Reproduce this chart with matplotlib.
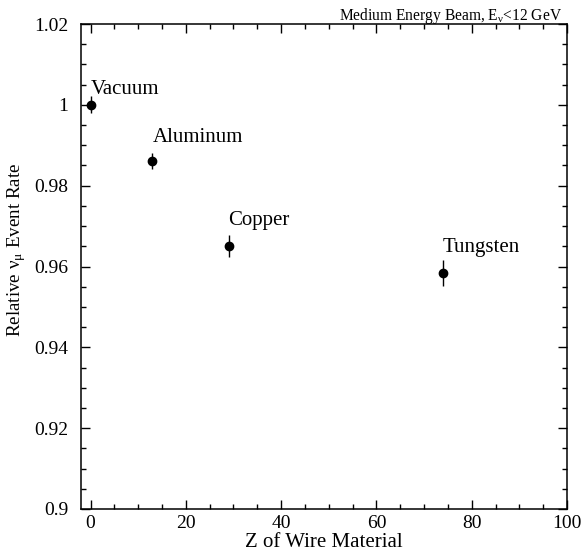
import numpy as np
import matplotlib
matplotlib.use("Agg")
from matplotlib import pyplot as plt
from matplotlib.ticker import MultipleLocator

# data
materials = ["Vacuum", "Aluminum", "Copper", "Tungsten"]
z = [0, 13, 29, 74]
rate = [1.0, 0.9861, 0.9651, 0.9585]
rate_err = [0.0021, 0.0020, 0.0027, 0.0032]
# where each material name sits
label_x = [0.1, 13.1, 28.9, 73.8]
label_y = [1.0037, 0.9918, 0.9715, 0.9648]

plt.rcParams["font.family"] = ["Liberation Serif", "DejaVu Serif"]
plt.rcParams["mathtext.fontset"] = "custom"
plt.rcParams["mathtext.rm"] = "Liberation Serif"
plt.rcParams["mathtext.it"] = "Liberation Serif:italic"

fig = plt.figure(figsize=(5.81, 5.52), dpi=100)
ax = fig.add_axes([0.1394, 0.0779, 0.8365, 0.8786])

ax.errorbar(z, rate, yerr=rate_err, fmt="o", color="black", markersize=6,
            elinewidth=1.0, capsize=0)
for name, lx, ly in zip(materials, label_x, label_y):
    ax.text(lx, ly, name, ha="left", va="center", fontsize=15)

ax.set_xlim(-2, 100)
ax.set_ylim(0.9, 1.02)
ax.xaxis.set_major_locator(MultipleLocator(20))
ax.xaxis.set_minor_locator(MultipleLocator(5))
ax.yaxis.set_major_locator(MultipleLocator(0.02))
ax.yaxis.set_minor_locator(MultipleLocator(0.005))
ax.set_yticks([0.9, 0.92, 0.94, 0.96, 0.98, 1.0, 1.02])
ax.set_yticklabels(["0.9", "0.92", "0.94", "0.96", "0.98", "1", "1.02"])

ax.tick_params(which="both", direction="in", top=True, right=True, width=1.0)
ax.tick_params(which="major", length=6.5)
ax.tick_params(which="minor", length=3.6)
ax.tick_params(axis="x", which="major", labelsize=14, pad=4)
ax.tick_params(axis="y", which="major", labelsize=14, pad=9)
for s in ax.spines.values():
    s.set_linewidth(1.1)

ax.set_xlabel("Z of Wire Material", fontsize=15)
ax.set_ylabel(r"Relative $\mathrm{\nu_{\mu}}$ Event Rate", fontsize=13.7)
ax.xaxis.set_label_coords(0.5, -0.05)
ax.yaxis.set_label_coords(-0.109, 0.534)

fig.text(562 / 581, 1 - 20 / 552, r"Medium Energy Beam, E$_{\mathrm{\nu}}$<12 GeV",
         ha="right", va="baseline", fontsize=11.2)

fig.savefig("out.png", dpi=100)
